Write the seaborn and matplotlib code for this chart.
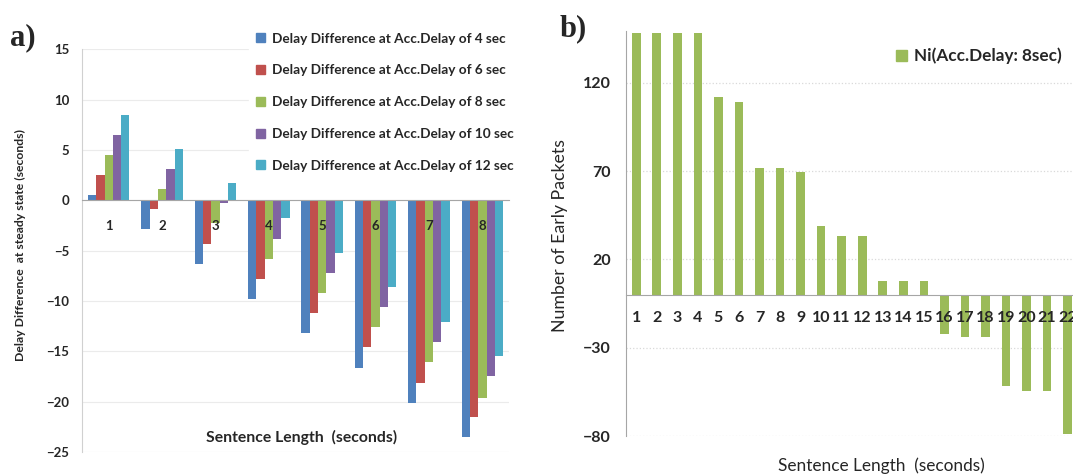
import pandas as pd
import matplotlib.pyplot as plt
import matplotlib.patches as mpatches
import numpy as np
import seaborn as sns

sns.set_style('white')
plt.rcParams['font.family'] = ['Lato', 'DejaVu Sans']

# Dados do painel a)
grupos = ['1', '2', '3', '4', '5', '6', '7', '8']
series = ['Delay Difference at Acc.Delay of 4 sec',
          'Delay Difference at Acc.Delay of 6 sec',
          'Delay Difference at Acc.Delay of 8 sec',
          'Delay Difference at Acc.Delay of 10 sec',
          'Delay Difference at Acc.Delay of 12 sec']
atraso_4 = [0.5, -2.9, -6.3, -9.8, -13.2, -16.7, -20.1, -23.5]
atraso_6 = [2.5, -0.9, -4.3, -7.8, -11.2, -14.6, -18.1, -21.5]
atraso_8 = [4.5, 1.1, -2.3, -5.8, -9.2, -12.6, -16.1, -19.6]
atraso_10 = [6.5, 3.1, -0.3, -3.8, -7.2, -10.6, -14.1, -17.5]
atraso_12 = [8.5, 5.1, 1.7, -1.8, -5.2, -8.6, -12.1, -15.5]
cores_a = ['#4F81BD', '#C0504D', '#9BBB59', '#8064A2', '#4BACC6']

# Dados do painel b)
comprimentos = [str(i) for i in range(1, 23)]
pacotes = [148, 148, 148, 148, 112, 109, 71.5, 71.5, 69.5, 39, 33, 33,
           7.5, 7.5, 7.5, -22.5, -24, -24, -51.5, -54.5, -54.5, -79]
legenda_b = 'Ni(Acc.Delay: 8sec)'
verde = '#9BBB59'

cinza = '#A6A6A6'

df_a = pd.DataFrame({
    'grupo': grupos * 5,
    'serie': np.repeat(series, len(grupos)),
    'valor': atraso_4 + atraso_6 + atraso_8 + atraso_10 + atraso_12,
})

fig = plt.figure(figsize=(10.73, 4.75), dpi=100)

# ---------------- Painel a) ----------------
ax1 = fig.add_axes([0.0764, 0.0484, 0.398, 0.848])
sns.barplot(data=df_a, x='grupo', y='valor', hue='serie', hue_order=series,
            palette=cores_a, width=0.78, gap=0, saturation=1, ax=ax1,
            edgecolor='none', legend=False)
ax1.set_ylim(-25, 15)
ax1.set_xlim(-0.5, len(grupos) - 0.5)
ax1.set_yticks(np.arange(-25, 16, 5))
ax1.yaxis.grid(True, color='#EBEBEB', linewidth=0.8)
ax1.set_axisbelow(True)
ax1.xaxis.set_zorder(3)  # rótulos das categorias por cima das barras
for s in ['top', 'right']:
    ax1.spines[s].set_visible(False)
ax1.spines['left'].set_color('#D0D0D0')
ax1.spines['bottom'].set_position(('data', 0))
ax1.spines['bottom'].set_color(cinza)
ax1.set_xticks(np.arange(-0.5, len(grupos), 1), minor=True)
ax1.tick_params(axis='x', which='major', length=0, pad=14.5, labelsize=9.5)
ax1.tick_params(axis='x', which='minor', length=5, color=cinza, direction='out')
ax1.tick_params(axis='y', length=4, color='#D0D0D0', labelsize=9.5, pad=5)
for lab in ax1.get_xticklabels() + ax1.get_yticklabels():
    lab.set_fontweight('bold')
ax1.set_xlabel('')
ax1.set_ylabel('')
ax1.text((301.7 - 82) / 427, (452 - 437) / 403, 'Sentence Length  (seconds)',
         transform=ax1.transAxes, ha='center', va='center', fontsize=11.3,
         fontweight='bold', zorder=5)
fig.text(20 / 1073, 1 - 245 / 475, 'Delay Difference  at steady state (seconds)',
         rotation=90, ha='center', va='center', fontsize=8.8, fontweight='bold')

handles = [mpatches.Patch(color=c, label=s) for c, s in zip(cores_a, series)]
leg = ax1.legend(handles=handles, loc='upper left', bbox_to_anchor=(0.392, 1.058),
                 frameon=True, fancybox=False, framealpha=1, edgecolor='white',
                 prop={'weight': 'bold', 'size': 9.8}, labelspacing=1.45,
                 handlelength=0.65, handleheight=0.65, handletextpad=0.5,
                 borderpad=0.5, borderaxespad=0)
fig.text(0.009, 1 - 38 / 475, 'a)', family='Liberation Serif', fontweight='bold',
         fontsize=22, ha='left', va='center')

# ---------------- Painel b) ----------------
ax2 = fig.add_axes([0.5834, 0.0821, 0.4212, 0.8526])
sns.barplot(x=comprimentos, y=pacotes, color=verde, width=0.42, saturation=1,
            ax=ax2, edgecolor='none')
ax2.set_ylim(-80, 149.3)
ax2.set_xlim(-0.5, len(comprimentos) - 0.5)
ax2.set_yticks([-80, -30, 20, 70, 120])
ax2.yaxis.grid(True, color='#D9D9D9', linestyle=':', linewidth=0.9)
ax2.set_axisbelow(True)
ax2.xaxis.set_zorder(3)
for s in ['top', 'right']:
    ax2.spines[s].set_visible(False)
ax2.spines['left'].set_color(cinza)
ax2.spines['bottom'].set_position(('data', 0))
ax2.spines['bottom'].set_color(cinza)
ax2.set_xticks(np.arange(-0.5, len(comprimentos), 1), minor=True)
ax2.tick_params(axis='x', which='major', length=0, pad=12, labelsize=11.5)
ax2.tick_params(axis='x', which='minor', length=5, color=cinza, direction='out')
ax2.tick_params(axis='y', length=5, color=cinza, labelsize=11.5, pad=6)
for lab in ax2.get_xticklabels() + ax2.get_yticklabels():
    lab.set_fontweight('bold')
ax2.set_xlabel('')
ax2.set_ylabel('')
fig.text(881 / 1073, 1 - 466 / 475, 'Sentence Length  (seconds)',
         ha='center', va='center', fontsize=12.4)
fig.text(560 / 1073, 1 - 236 / 475, 'Number of Early Packets',
         rotation=90, ha='center', va='center', fontsize=12.8)
ax2.legend(handles=[mpatches.Patch(color=verde, label=legenda_b)],
           loc='center left', bbox_to_anchor=((896 - 626) / 452, (436 - 56) / 405),
           frameon=False, prop={'weight': 'bold', 'size': 12.3},
           handlelength=0.65, handleheight=0.65, handletextpad=0.4,
           borderpad=0, borderaxespad=0)
fig.text(560 / 1073, 1 - 29 / 475, 'b)', family='Liberation Serif', fontweight='bold',
         fontsize=22, ha='left', va='center')

plt.savefig('out.png', dpi=100)
